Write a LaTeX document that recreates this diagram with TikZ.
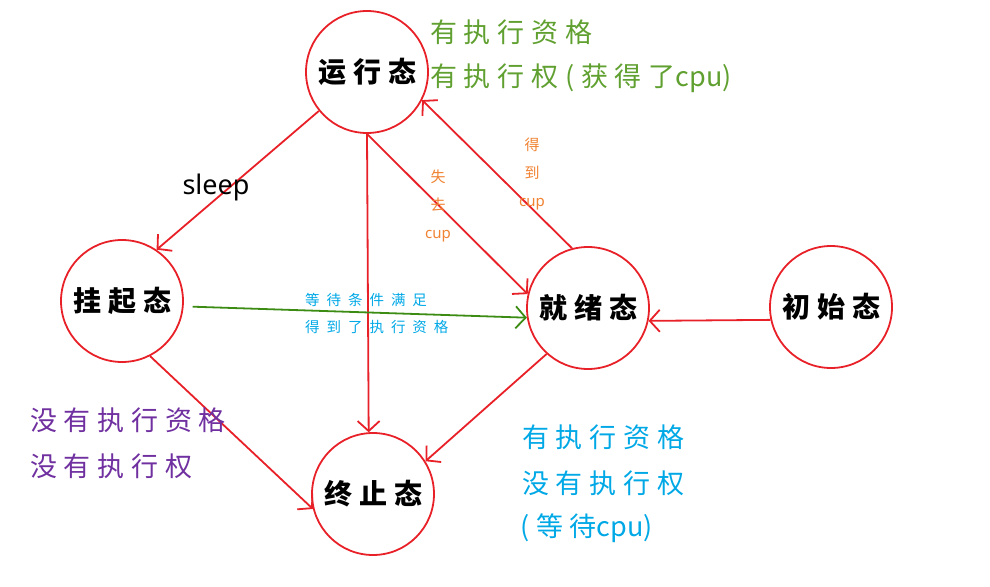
\documentclass[tikz,border=0pt]{standalone}
\usepackage{fontspec}
\usetikzlibrary{arrows.meta}
\newfontfamily\cjk{Noto Sans CJK SC}
\newfontfamily\cjkw[LetterSpace=25]{Noto Sans CJK SC}
\newfontfamily\cjks[LetterSpace=48]{Noto Sans CJK SC}
\newfontfamily\latin{Noto Sans}

\definecolor{stred}{RGB}{232,32,40}
\definecolor{arrgreen}{RGB}{60,140,20}
\definecolor{txtgreen}{RGB}{96,160,48}
\definecolor{txtorange}{RGB}{240,130,50}
\definecolor{txtblue}{RGB}{0,168,230}
\definecolor{txtpurple}{RGB}{112,48,160}

\tikzstyle{state} = [circle, draw=stred, line width=1.8pt, minimum size=122pt, inner sep=0pt, font=\fontsize{28}{28}\selectfont\cjkw\bfseries]
\tikzstyle{line} = [draw=stred, line width=1.8pt, -{Straight Barb[length=10pt,width=22pt]}]
\tikzstyle{bigtxt} = [anchor=west, inner sep=0pt, font=\fontsize{27}{27}\selectfont\cjkw]
\tikzstyle{smalltxt} = [anchor=west, inner sep=0pt, font=\fontsize{14.5}{14.5}\selectfont\cjks, text=txtblue]
\tikzstyle{cuptxt} = [align=center, inner sep=0pt, text=txtorange, font=\fontsize{15}{28}\selectfont\cjk]

\begin{document}
\begin{tikzpicture}[x=1pt,y=-1pt]
	\useasboundingbox (0,0) rectangle (990,586);

	% States
	\node[state] (run) at (367,72) {运行态};
	\node[state] (suspend) at (122,301) {挂起态};
	\node[state] (ready) at (588,308) {就绪态};
	\node[state] (init) at (831,307) {初始态};
	\node[state] (term) at (373,494) {终止态};

	% Transitions
	\path[line] (run.219) -- (suspend.56);
	\path[line] (run.south) -- (term.94);
	\path[line] (run.south) -- (ready.167);
	\path[line] (ready.105) -- (run.333);
	\path[line, draw=arrgreen, shorten <=9pt] (suspend.-5) -- (ready.189);
	\path[line] (suspend.297) -- (term.194);
	\path[line] (ready.228) -- (term.32);
	\path[line] (init.192) -- (ready.-12);

	% Labels on transitions
	\node (sleep) at (216,187) {\fontsize{27}{27}\selectfont\latin sleep};
	\node[cuptxt] (lose) at (438,206) {失\\去\\{\latin cup}};
	\node[cuptxt] (get) at (532,174) {得\\到\\{\latin cup}};
	\node[smalltxt] (wait1) at (305,300) {等待条件满足};
	\node[smalltxt] (wait2) at (305,327) {得到了执行资格};

	% Notes
	\node[bigtxt, text=txtgreen] (runnote1) at (430,32) {有执行资格};
	\node[bigtxt, text=txtgreen] (runnote2) at (430,78) {有执行权(获得了{\cjk cpu)}};
	\node[bigtxt, text=txtpurple] (susnote1) at (30,420) {没有执行资格};
	\node[bigtxt, text=txtpurple] (susnote2) at (30,466) {没有执行权};
	\node[bigtxt, text=txtblue] (rdynote1) at (522,437) {有执行资格};
	\node[bigtxt, text=txtblue] (rdynote2) at (522,483) {没有执行权};
	\node[bigtxt, text=txtblue] (rdynote3) at (520,528) {(等待{\cjk cpu)}};

\end{tikzpicture}
\end{document}
